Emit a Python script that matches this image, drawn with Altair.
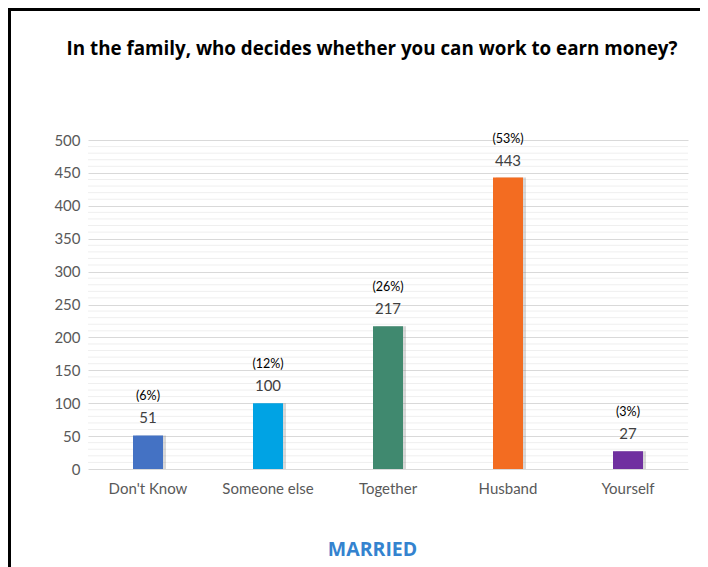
import altair as alt
import pandas as pd

categories = ["Don't Know", "Someone else", "Together", "Husband", "Yourself"]
counts = [51, 100, 217, 443, 27]
percents = ["(6%)", "(12%)", "(26%)", "(53%)", "(3%)"]
colors = ["#4472C4", "#00A3E4", "#40896F", "#F36C21", "#7030A0"]
major_ticks = [0, 50, 100, 150, 200, 250, 300, 350, 400, 450, 500]
minor_ticks = [v for v in range(10, 500, 10) if v % 50 != 0]

df = pd.DataFrame({"cat": categories, "n": counts, "pct": percents, "col": colors})
minor_df = pd.DataFrame({"n": minor_ticks})

FONT = "Lato"
W, H = 600, 329

x_enc = alt.X("cat:N", sort=categories,
              scale=alt.Scale(paddingInner=0.75, paddingOuter=0.375),
              axis=alt.Axis(title="MARRIED", titleFont="Open Sans", titleFontSize=19.5,
                            titleFontWeight="bold", titleColor="#3483CF",
                            titleX=284, titleY=80, titleBaseline="middle",
                            titleAlign="center", titleAngle=0,
                            labelFont=FONT, labelFontSize=15, labelColor="#595959",
                            labelAngle=0, labelPadding=12, ticks=False, domain=False))
y_scale = alt.Scale(domain=[0, 500], nice=False)
y_axis = alt.Axis(title=None, values=major_ticks, labelFont=FONT,
                  labelFontSize=15, labelColor="#595959", labelPadding=8,
                  ticks=False, domain=False, grid=True,
                  gridColor="#D9D9D9", gridWidth=1)
y_enc = alt.Y("n:Q", scale=y_scale, axis=y_axis)

minor = alt.Chart(minor_df).mark_rule(color="#EFEFEF", strokeWidth=1).encode(
    y=y_enc, x=alt.value(0), x2=alt.value(W))

base = alt.Chart(df)
shadow = base.mark_bar(width=30, xOffset=3, color="#7F7F7F", opacity=0.3).encode(
    x=x_enc, y=y_enc)
bars = base.mark_bar(width=30).encode(
    x=x_enc, y=y_enc, color=alt.Color("col:N", scale=None))
val = base.mark_text(font=FONT, fontSize=15, color="#404040", dy=-17,
                     baseline="middle").encode(x=x_enc, y=y_enc, text="n:Q")
pct = base.mark_text(font=FONT, fontSize=12.5, color="#000000", dy=-39,
                     baseline="middle").encode(x=x_enc, y=y_enc, text="pct:N")

frame_df = pd.DataFrame({"k": [0]})
top_border = alt.Chart(frame_df).mark_rule(color="#000000", strokeWidth=3).encode(
    x=alt.value(-80), x2=alt.value(612), y=alt.value(-130.5))
left_border = alt.Chart(frame_df).mark_rule(color="#000000", strokeWidth=3).encode(
    x=alt.value(-78.5), y=alt.value(-132), y2=alt.value(440))

chart = alt.layer(minor, shadow, bars, val, pct, top_border, left_border).properties(
    width=W, height=H,
    title=alt.TitleParams("In the family, who decides whether you can work to earn money?",
                          font="Open Sans", fontSize=18.8, fontWeight="bold", color="#000000",
                          anchor="middle", frame="group", baseline="alphabetic",
                          offset=-67, dx=-16),
    padding={"left": 80, "top": 132, "right": 12, "bottom": 110},
    autosize=alt.AutoSizeParams(type="none"),
    background="#FFFFFF",
).configure_view(stroke=None)

chart.save("out.html", embed_options={"renderer": "svg", "actions": False})
